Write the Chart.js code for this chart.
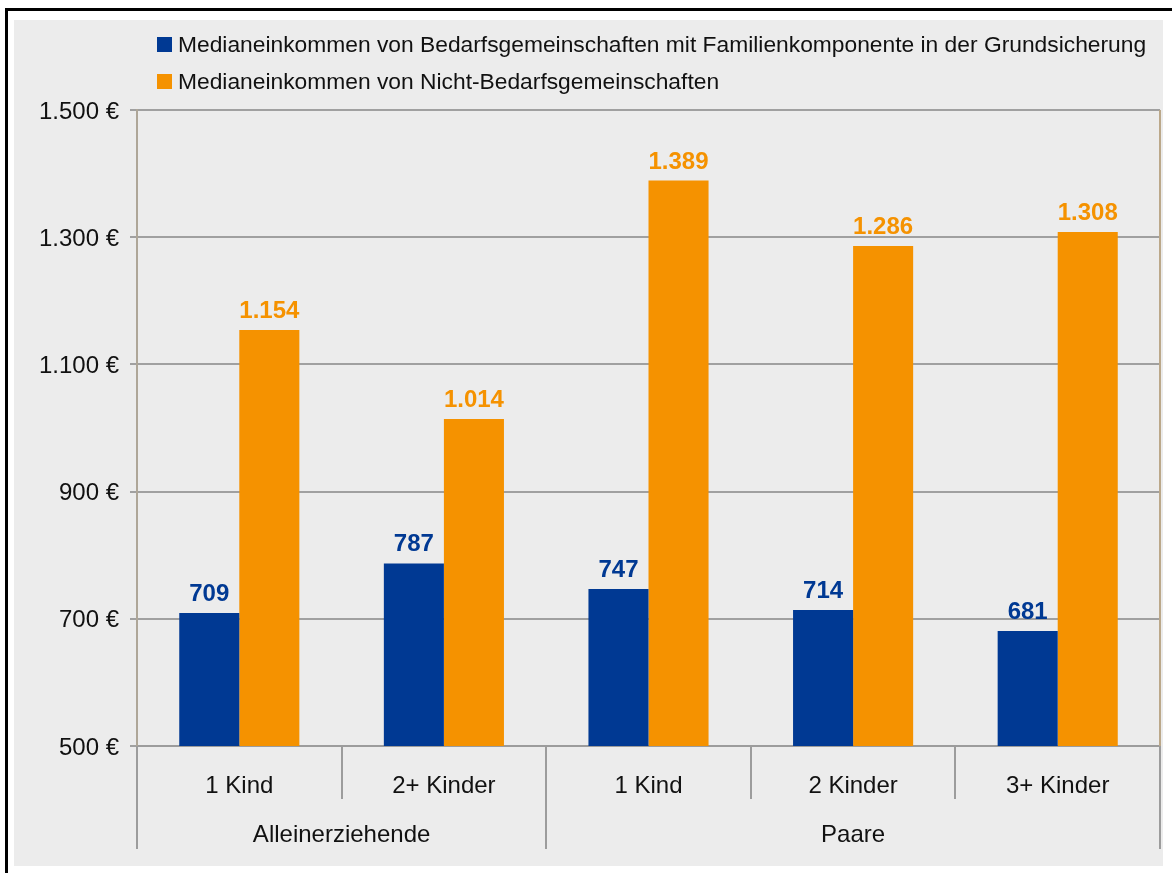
<!DOCTYPE html>
<html><head><meta charset="utf-8">
<script src="https://cdn.jsdelivr.net/npm/chart.js@4"></script>
<style>
html,body{margin:0;padding:0;background:#fff;width:1172px;height:873px;overflow:hidden;}
#frame{position:absolute;left:5px;top:8px;width:1200px;height:900px;border-top:3px solid #000;border-left:3px solid #000;}
#wrap{position:absolute;left:14px;top:20px;width:1149px;height:846px;background:#ececec;}
canvas{display:block;}
</style></head><body>
<div id="frame"></div>
<div id="wrap"><canvas id="c" width="1149" height="846"></canvas></div>
<script>
const categories = ['1 Kind', '2+ Kinder', '1 Kind', '2 Kinder', '3+ Kinder'];
const groups = ['Alleinerziehende', 'Paare'];
const groupSizes = [2, 3];
const seriesNames = [
  'Medianeinkommen von Bedarfsgemeinschaften mit Familienkomponente in der Grundsicherung',
  'Medianeinkommen von Nicht-Bedarfsgemeinschaften'
];
const bgValues = [709, 787, 747, 714, 681];
const nonBgValues = [1154, 1014, 1389, 1286, 1308];
const yTicks = [500, 700, 900, 1100, 1300, 1500];

const BLUE = '#003993';
const ORANGE = '#F59200';
const FONT = 'Arial, "Liberation Sans", sans-serif';

function fmt(v) { return String(v).replace(/\B(?=(\d{3})+(?!\d))/g, '.'); }

const decorPlugin = {
  id: 'decor',
  afterDatasetsDraw(chart) {
    const ctx = chart.ctx;
    ctx.save();
    ctx.font = 'bold 24px ' + FONT;
    ctx.textAlign = 'center';
    ctx.textBaseline = 'alphabetic';
    chart.data.datasets.forEach((ds, di) => {
      const meta = chart.getDatasetMeta(di);
      meta.data.forEach((bar, i) => {
        ctx.fillStyle = ds.backgroundColor;
        ctx.fillText(fmt(ds.data[i]), bar.x, bar.y - 12);
      });
    });
    ctx.restore();
  },
  afterDraw(chart) {
    const ctx = chart.ctx;
    const ca = chart.chartArea;
    ctx.save();
    // right border of plot
    ctx.strokeStyle = '#bba88a';
    ctx.lineWidth = 2;
    ctx.beginPath();
    ctx.moveTo(ca.right, ca.top);
    ctx.lineTo(ca.right, ca.bottom);
    ctx.stroke();
    // separators
    const n = categories.length;
    const w = (ca.right - ca.left) / n;
    const groupBounds = [0];
    groupSizes.reduce((acc, s) => { groupBounds.push(acc + s); return acc + s; }, 0);
    ctx.strokeStyle = '#9c9c9c';
    ctx.lineWidth = 2;
    for (let i = 0; i <= n; i++) {
      const x = Math.round(ca.left + i * w);
      const isGroup = groupBounds.includes(i);
      ctx.beginPath();
      ctx.moveTo(x, ca.bottom);
      ctx.lineTo(x, ca.bottom + (isGroup ? 103 : 53));
      ctx.stroke();
    }
    // group labels
    ctx.fillStyle = '#111';
    ctx.font = '24px ' + FONT;
    ctx.textAlign = 'center';
    ctx.textBaseline = 'middle';
    for (let g = 0; g < groups.length; g++) {
      const x0 = ca.left + groupBounds[g] * w;
      const x1 = ca.left + groupBounds[g + 1] * w;
      ctx.fillText(groups[g], (x0 + x1) / 2, ca.bottom + 89);
    }
    // legend
    ctx.font = '22.8px ' + FONT;
    ctx.textAlign = 'left';
    chart.data.datasets.forEach((ds, di) => {
      const y = 17 + di * 37;
      ctx.fillStyle = ds.backgroundColor;
      ctx.fillRect(143, y, 15, 15);
      ctx.fillStyle = '#111';
      ctx.fillText(ds.label, 164, y + 9);
    });
    ctx.restore();
  }
};

new Chart(document.getElementById('c'), {
  type: 'bar',
  data: {
    labels: categories,
    datasets: [
      { label: seriesNames[0], data: bgValues, backgroundColor: BLUE },
      { label: seriesNames[1], data: nonBgValues, backgroundColor: ORANGE }
    ]
  },
  options: {
    responsive: false,
    animation: false,
    devicePixelRatio: 1,
    layout: { padding: { top: 90, right: 3, left: 0, bottom: 0 } },
    datasets: { bar: { categoryPercentage: 0.587, barPercentage: 1.0 } },
    plugins: { legend: { display: false }, tooltip: { enabled: false } },
    scales: {
      x: {
        afterFit(s) { s.height = 120; },
        grid: { drawOnChartArea: false, drawTicks: false },
        border: { color: '#9c9c9c', width: 2 },
        ticks: { font: { size: 24, family: FONT }, color: '#111', padding: 26, autoSkip: false, maxRotation: 0 }
      },
      y: {
        min: 500, max: 1500,
        afterBuildTicks(s) { s.ticks = yTicks.map(v => ({ value: v })); },
        afterFit(s) { s.width = 123; },
        grid: { color: '#a0a0a0', lineWidth: 2, tickLength: 7, drawTicks: true, tickColor: '#a0a0a0' },
        border: { color: '#aea698', width: 2 },
        ticks: { font: { size: 24, family: FONT }, color: '#111', padding: 11, labelOffset: 2, callback: v => fmt(v) + ' €' }
      }
    }
  },
  plugins: [decorPlugin]
});
</script>
</body></html>
